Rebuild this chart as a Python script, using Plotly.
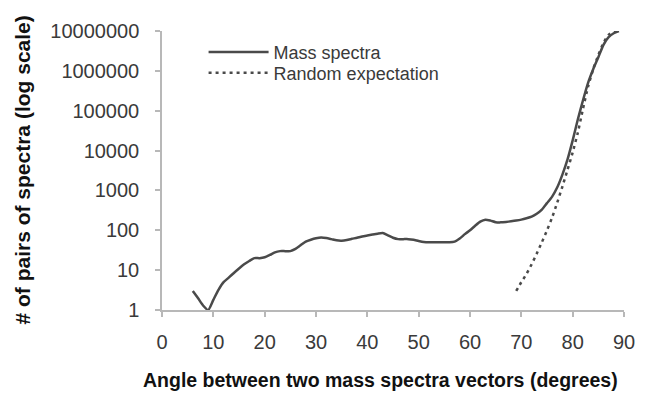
import plotly.graph_objects as go

# Mass spectra curve (angle in degrees, # of pairs)
mass_angle = [6, 7, 8, 9, 10, 11, 12, 13, 14, 15, 16, 17, 18, 19, 20, 21, 22, 23, 24, 25,
              26, 27, 28, 29, 30, 31, 32, 33, 34, 35, 36, 37, 38, 39, 40, 41, 42, 43, 44, 45,
              46, 47, 48, 49, 50, 51, 52, 53, 54, 55, 56, 57, 58, 59, 60, 61, 62, 63, 64, 65,
              66, 67, 68, 69, 70, 71, 72, 73, 74, 75, 76, 77, 78, 79, 80, 81, 82, 83, 84, 85,
              86, 87, 88, 89]
mass_pairs = [3, 2, 1.3, 1, 1.8, 3.2, 5, 6.5, 8.5, 11, 14, 17, 20, 20, 21, 24, 28, 30, 30, 30,
              34, 42, 52, 58, 63, 66, 64, 60, 56, 55, 57, 61, 65, 70, 74, 78, 82, 85, 75, 65,
              60, 60, 60, 58, 54, 51, 50, 50, 50, 50, 50, 52, 62, 80, 100, 130, 165, 185, 175, 160,
              158, 162, 168, 175, 185, 200, 220, 260, 330, 480, 700, 1200, 2500, 6000, 18000, 60000,
              180000, 500000, 1100000, 2200000, 4500000, 7000000, 8800000, 10000000]

# Random expectation curve
rand_angle = [69, 70, 71, 72, 73, 74, 75, 76, 77, 78, 79, 80, 81, 82, 83, 84, 85, 86, 87, 88, 89]
rand_pairs = [3, 5, 8, 14, 26, 50, 100, 210, 500, 1250, 3300, 9000, 28000, 110000, 400000,
              1100000, 2500000, 5000000, 8000000, 9500000, 10000000]

x_ticks = [0, 10, 20, 30, 40, 50, 60, 70, 80, 90]
y_ticks = [1, 10, 100, 1000, 10000, 100000, 1000000, 10000000]
y_tick_text = ["1", "10", "100", "1000", "10000", "100000", "1000000", "10000000"]

FONT = "Liberation Sans, Arial, sans-serif"

fig = go.Figure()
fig.add_trace(go.Scatter(x=mass_angle, y=mass_pairs, mode="lines", name="Mass spectra",
                         legend="legend",
                         line=dict(color="#4a4a4a", width=2.5, shape="spline", smoothing=0.6)))
fig.add_trace(go.Scatter(x=rand_angle, y=rand_pairs, mode="lines", name="Random expectation",
                         legend="legend2",
                         line=dict(color="#4a4a4a", width=2.5, dash="3px,4px",
                                   shape="spline", smoothing=0.6)))

axis_common = dict(showgrid=False, zeroline=False, showline=True, linecolor="#b8b8b8",
                   linewidth=1.5, ticks="outside", tickcolor="#b8b8b8", ticklen=5, tickwidth=1.5,
                   tickfont=dict(family=FONT, size=20, color="#3a3a3a"))

legend_common = dict(xanchor="left", yanchor="middle", itemwidth=60,
                     bgcolor="rgba(0,0,0,0)",
                     font=dict(family=FONT, size=18, color="#3a3a3a"))

# page body adds an 8px offset; size the figure so the plot area lands where the reference has it
fig.update_layout(
    width=657, height=385,
    margin=dict(l=154, r=41, t=20, b=83),
    paper_bgcolor="white", plot_bgcolor="white",
    xaxis=dict(range=[0, 90], tickvals=x_ticks, ticklabelstandoff=8, **axis_common),
    yaxis=dict(type="log", range=[0, 7], tickvals=y_ticks, ticktext=y_tick_text,
               ticklabelstandoff=12, **axis_common),
    showlegend=True,
    legend=dict(x=0.09, y=0.9238, **legend_common),
    legend2=dict(x=0.09, y=0.8493, **legend_common),
    annotations=[
        dict(text="Angle between two mass spectra vectors (degrees)", xref="paper", yref="paper",
             x=0.474, y=-(373 - 302) / 282, xanchor="center", yanchor="middle",
             showarrow=False, font=dict(family=FONT, size=19.5, color="#111111", weight="bold")),
        dict(text="# of pairs of spectra (log scale)", xref="paper", yref="paper",
             x=-0.303, y=0.5, xanchor="center", yanchor="middle", textangle=-90,
             showarrow=False, font=dict(family=FONT, size=21, color="#111111", weight="bold")),
    ],
)

fig.write_html("out.html")
